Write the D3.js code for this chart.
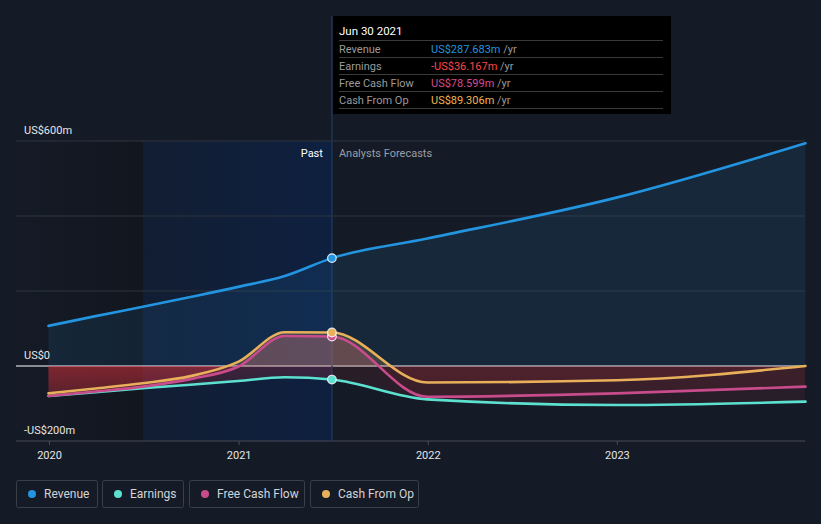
<!DOCTYPE html>
<html><head><meta charset="utf-8">
<script src="https://cdn.jsdelivr.net/npm/d3@7"></script>
<style>
html,body{margin:0;padding:0;background:#151b26;}
svg{display:block;font-family:Roboto,"Noto Sans",sans-serif;}
</style></head>
<body>
<svg id="c" width="821" height="524"></svg>
<script>
// ---- data ----
const dates = ["2019-12-31","2020-03-31","2020-06-30","2020-09-30","2020-12-31","2021-03-31","2021-06-30","2021-12-31","2022-12-31","2023-12-31"];
const revenue  = [107, 133, 158, 184, 211, 240, 287.683, 340, 449, 594];
const earnings = [-80, -70, -59, -50, -40, -30, -36.167, -89, -104, -95];
const fcf      = [-80, -68, -55, -35, -2, 80, 78.599, -82, -73, -55];
const cfo      = [-73, -60, -46, -27, 11, 90, 89.306, -44, -38, 0];
const seriesNames = ["Revenue","Earnings","Free Cash Flow","Cash From Op"];
const tooltipDate = "Jun 30 2021";
const tooltipValues = ["US$287.683m","-US$36.167m","US$78.599m","US$89.306m"];
const yTickValues = [-200, 0, 200, 400, 600];
const yTickLabels = {"-200":"-US$200m","0":"US$0","600":"US$600m"};
const xTickYears = [2020, 2021, 2022, 2023];
const pastEnd = "2021-06-30";
const pastBandStart = "2020-06-30";

(function(){
const svg = d3.select("#c");
const parse = d3.timeParse("%Y-%m-%d");
const D = dates.map(parse);
const colors = {rev:"#2394df", earn:"#5ce0d0", fcf:"#c84b8c", cfo:"#e8b05a"};
const L = 16, R = 805, topY = 141, bottomY = 441;
const x = d3.scaleTime().domain([new Date(2020,0,1), new Date(2024,0,1)]).range([49, 806]);
const y = d3.scaleLinear().domain([-200, 600]).range([bottomY, topY]);
const xPast = x(parse(pastEnd)), xBand = x(parse(pastBandStart));

const defs = svg.append("defs");
const g1 = defs.append("linearGradient").attr("id","pastBand").attr("x1","0").attr("x2","1").attr("y1","0").attr("y2","0");
g1.append("stop").attr("offset","0").attr("stop-color","rgb(5,40,100)").attr("stop-opacity",0.2);
g1.append("stop").attr("offset","1").attr("stop-color","rgb(5,40,100)").attr("stop-opacity",0.42);
const g2 = defs.append("linearGradient").attr("id","leftDark").attr("x1","0").attr("x2","1").attr("y1","0").attr("y2","0");
g2.append("stop").attr("offset","0").attr("stop-color","#000").attr("stop-opacity",0);
g2.append("stop").attr("offset","1").attr("stop-color","#000").attr("stop-opacity",0.2);
const g3 = defs.append("linearGradient").attr("id","redPast").attr("gradientUnits","userSpaceOnUse").attr("x1",0).attr("x2",0).attr("y1",y(0)).attr("y2",y(-120));
g3.append("stop").attr("offset","0").attr("stop-color","rgb(230,50,60)").attr("stop-opacity",0.21);
g3.append("stop").attr("offset","1").attr("stop-color","rgb(230,50,60)").attr("stop-opacity",0.07);
const g4 = defs.append("linearGradient").attr("id","redFut").attr("gradientUnits","userSpaceOnUse").attr("x1",0).attr("x2",0).attr("y1",y(0)).attr("y2",y(-120));
g4.append("stop").attr("offset","0").attr("stop-color","rgb(230,50,60)").attr("stop-opacity",0.1);
g4.append("stop").attr("offset","1").attr("stop-color","rgb(230,50,60)").attr("stop-opacity",0.08);

defs.append("clipPath").attr("id","negPast").append("rect").attr("x",0).attr("y",y(0)).attr("width",xPast).attr("height",200);
defs.append("clipPath").attr("id","negFut").append("rect").attr("x",xPast).attr("y",y(0)).attr("width",R-xPast).attr("height",200);
defs.append("clipPath").attr("id","pos").append("rect").attr("x",0).attr("y",0).attr("width",R).attr("height",y(0));

// bands
svg.append("rect").attr("x",L).attr("y",topY).attr("width",xBand-L).attr("height",bottomY-topY).attr("fill","url(#leftDark)");
svg.append("rect").attr("x",xBand).attr("y",topY).attr("width",xPast-xBand).attr("height",bottomY-topY).attr("fill","url(#pastBand)");

// grid
yTickValues.filter(v=>v>0).forEach(v=>{
  svg.append("line").attr("x1",L).attr("x2",R).attr("y1",y(v)).attr("y2",y(v)).attr("stroke","#2e343e").attr("stroke-width",1);
});
svg.append("line").attr("x1",L).attr("x2",R).attr("y1",y(-200)).attr("y2",y(-200)).attr("stroke","#464b55").attr("stroke-width",1);
svg.append("line").attr("x1",L).attr("x2",R).attr("y1",y(0)).attr("y2",y(0)).attr("stroke","#ffffff").attr("stroke-width",1.2);

// divider
svg.append("line").attr("x1",xPast).attr("x2",xPast).attr("y1",16).attr("y2",bottomY).attr("stroke","#1d3556").attr("stroke-width",1.5);

const curve = d3.curveMonotoneX;
const pts = arr => arr.map((v,i)=>[D[i],v]);
const line = d3.line().x(d=>x(d[0])).y(d=>y(d[1])).curve(curve);
const area = d3.area().x(d=>x(d[0])).y0(y(0)).y1(d=>y(d[1])).curve(curve);

// revenue area
svg.append("path").attr("d",area(pts(revenue))).attr("fill","rgb(35,148,223)").attr("fill-opacity",0.11);

// negative/positive areas
[[earnings,"none"],[fcf,colors.fcf],[cfo,colors.cfo]].forEach(([arr,pc])=>{
  svg.append("path").attr("d",area(pts(arr))).attr("fill","url(#redPast)").attr("clip-path","url(#negPast)");
  svg.append("path").attr("d",area(pts(arr))).attr("fill","url(#redFut)").attr("clip-path","url(#negFut)");
  if(pc!=="none") svg.append("path").attr("d",area(pts(arr))).attr("fill",pc).attr("fill-opacity",pc===colors.cfo?0.2:0.25).attr("clip-path","url(#pos)");
});

// lines
[[earnings,colors.earn],[fcf,colors.fcf],[cfo,colors.cfo],[revenue,colors.rev]].forEach(([arr,c])=>{
  svg.append("path").attr("d",line(pts(arr))).attr("fill","none").attr("stroke",c).attr("stroke-width",2.6).attr("stroke-linecap","round");
});

// markers
const iP = dates.indexOf(pastEnd);
[[earnings,colors.earn],[fcf,colors.fcf],[cfo,colors.cfo],[revenue,colors.rev]].forEach(([arr,c])=>{
  svg.append("circle").attr("cx",x(D[iP])).attr("cy",y(arr[iP])).attr("r",4.3).attr("fill",c).attr("stroke","rgba(255,255,255,0.85)").attr("stroke-width",1.2);
});

// y labels
yTickValues.forEach(v=>{
  const lab = yTickLabels[String(v)];
  if(!lab) return;
  svg.append("text").attr("x",24).attr("y",y(v)-7).attr("fill","#e6e6e6").attr("font-size",11).text(lab);
});

// x axis
const xa = svg.append("g").attr("transform",`translate(0,${bottomY})`)
  .call(d3.axisBottom(x).tickValues(xTickYears.map(yr=>new Date(yr,0,1))).tickSize(4).tickPadding(6).tickFormat(d3.timeFormat("%Y")));
xa.select(".domain").remove();
xa.selectAll(".tick line").attr("stroke","#464b55");
xa.selectAll(".tick text").attr("fill","#e6e6e6").attr("font-size",11).attr("font-family","Roboto,sans-serif");

// Past / forecasts
svg.append("text").attr("x",xPast-9).attr("y",157).attr("text-anchor","end").attr("fill","#ffffff").attr("font-size",11).text("Past");
svg.append("text").attr("x",xPast+7).attr("y",157).attr("fill","#9a9ea6").attr("font-size",11).text("Analysts Forecasts");

// tooltip
const tt = svg.append("g");
tt.append("rect").attr("x",333).attr("y",16).attr("width",338).attr("height",98).attr("fill","#000");
tt.append("text").attr("x",339).attr("y",35).attr("fill","#fff").attr("font-size",11.5).text(tooltipDate);
const valColors = [colors.rev, "#ff4545", "#d64a92", "#f0b452"];
[40,57,74,91,108].forEach(yy=>{
  tt.append("line").attr("x1",339).attr("x2",663).attr("y1",yy+0.5).attr("y2",yy+0.5).attr("stroke","#3a3a3a");
});
seriesNames.forEach((n,i)=>{
  const by = 52.5 + i*17;
  tt.append("text").attr("x",339).attr("y",by).attr("fill","#9a9a9a").attr("font-size",11).text(n);
  const t = tt.append("text").attr("x",431).attr("y",by).attr("font-size",11);
  t.append("tspan").attr("fill",valColors[i]).text(tooltipValues[i]);
  t.append("tspan").attr("fill","#9a9a9a").text(" /yr");
});

// legend
const legendX = [16,102,189,310], legendW = [82,82,116,109];
const legColors = [colors.rev, colors.earn, colors.fcf, colors.cfo];
seriesNames.forEach((n,i)=>{
  const g = svg.append("g").attr("transform",`translate(${legendX[i]},480)`);
  g.append("rect").attr("x",0.5).attr("y",0.5).attr("width",legendW[i]-1).attr("height",27).attr("rx",2).attr("fill","none").attr("stroke","#3a404a");
  g.append("circle").attr("cx",16).attr("cy",14).attr("r",4).attr("fill",legColors[i]);
  g.append("text").attr("x",28).attr("y",18).attr("fill","#d2d4d8").attr("font-size",12).text(n);
});
})();
</script>
</body></html>
